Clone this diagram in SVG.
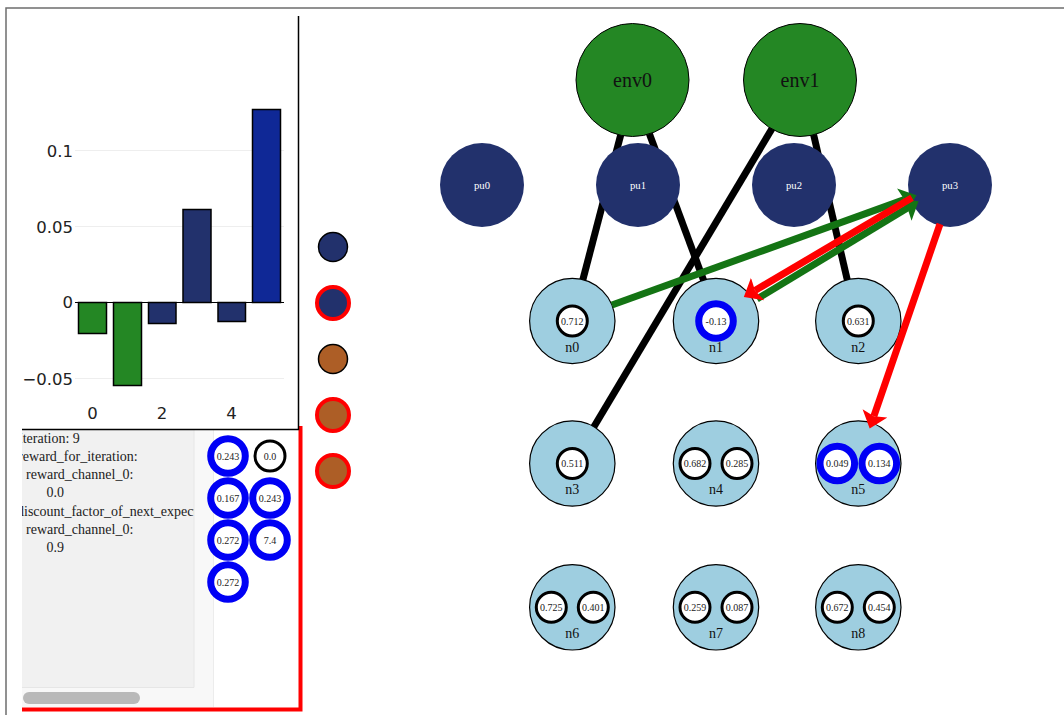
<svg xmlns="http://www.w3.org/2000/svg" width="1064" height="715" viewBox="0 0 1064 715">
<style>
.grid{stroke:#eeeeee;stroke-width:1}
.bar{stroke:#000;stroke-width:1.5}
.tick{font-family:"DejaVu Sans",sans-serif;font-size:16.5px;fill:#222}
.panel{font-family:"Liberation Serif",serif;font-size:14px;fill:#222}
.env{fill:#248724;stroke:#000;stroke-width:1}
.pu{fill:#22316c}
.n{fill:#9ecee0;stroke:#000;stroke-width:1.2}
.val{fill:#fff;stroke:#000;stroke-width:3}
.hot{fill:#fff;stroke:#0000f5;stroke-width:7}
.vt{font-family:"Liberation Serif",serif;font-size:10px;text-anchor:middle;fill:#222}
.nt{font-family:"Liberation Serif",serif;font-size:14px;text-anchor:middle;fill:#111}
.put{font-family:"Liberation Serif",serif;font-size:10.7px;text-anchor:middle;fill:#fff}
.envt{font-family:"Liberation Serif",serif;font-size:20px;text-anchor:middle;fill:#111}
.blk{stroke:#000;stroke-width:7;fill:none}
.grn{stroke:#147414;stroke-width:7;fill:none;marker-end:url(#ag)}
.red{stroke:#ff0000;stroke-width:7;fill:none;marker-end:url(#ar)}
</style>
<defs>
<marker id="ag" markerUnits="userSpaceOnUse" markerWidth="18" markerHeight="28" refX="3" refY="13" orient="auto"><polygon points="0,0 16,13 0,26 3,13" fill="#147414"/></marker>
<marker id="ar" markerUnits="userSpaceOnUse" markerWidth="18" markerHeight="28" refX="3" refY="13" orient="auto"><polygon points="0,0 16,13 0,26 3,13" fill="#ff0000"/></marker>
<clipPath id="clip"><rect x="22" y="431" width="172" height="256"/></clipPath>
</defs>
<rect width="1064" height="715" fill="#fff"/>
<path d="M6 715V8H1064" fill="none" stroke="#6e6e6e" stroke-width="1.5"/>
<g id="chart">
<line class="grid" x1="75" x2="284" y1="150.5" y2="150.5"/>
<line class="grid" x1="75" x2="284" y1="226.5" y2="226.5"/>
<line class="grid" x1="75" x2="284" y1="378.5" y2="378.5"/>
<rect class="bar" x="78.500" y="302.500" width="28" height="31" fill="#248724"/>
<rect class="bar" x="113.500" y="302.500" width="28" height="83" fill="#248724"/>
<rect class="bar" x="148.500" y="302.500" width="27.500" height="21" fill="#22316c"/>
<rect class="bar" x="183" y="209.500" width="28" height="93" fill="#22316c"/>
<rect class="bar" x="218" y="302.500" width="27.500" height="19" fill="#22316c"/>
<rect class="bar" x="252.500" y="109.500" width="28" height="193" fill="#0f2896"/>
<line x1="75" x2="284" y1="302.500" y2="302.500" stroke="#000" stroke-width="1"/>
<text class="tick" x="73" y="156.500" text-anchor="end">0.1</text>
<text class="tick" x="73" y="232.500" text-anchor="end">0.05</text>
<text class="tick" x="73" y="308" text-anchor="end">0</text>
<text class="tick" x="73" y="384.500" text-anchor="end">−0.05</text>
<text class="tick" x="92.500" y="419" text-anchor="middle">0</text>
<text class="tick" x="162" y="419" text-anchor="middle">2</text>
<text class="tick" x="231.500" y="419" text-anchor="middle">4</text>
</g>
<g id="panel">
<rect x="22" y="430" width="191" height="277" fill="#f8f8f8"/>
<rect x="22" y="430" width="172" height="257.500" fill="#f1f1f1"/>
<path d="M194 430V687.500H22" fill="none" stroke="#e6e6e6" stroke-width="1"/>
<line x1="213.500" x2="213.500" y1="430" y2="707" stroke="#ececec"/>
<rect x="23" y="692" width="117" height="12" rx="6" fill="#b9b9b9"/>
<g clip-path="url(#clip)">
<text class="panel" x="18" y="442.800">Iteration: 9</text>
<text class="panel" x="18" y="461">reward_for_iteration:</text>
<text class="panel" x="26" y="479.100">reward_channel_0:</text>
<text class="panel" x="46.500" y="497.300">0.0</text>
<text class="panel" x="17" y="515.500">discount_factor_of_next_expected</text>
<text class="panel" x="26" y="533.600">reward_channel_0:</text>
<text class="panel" x="46.500" y="551.800">0.9</text>
</g>
<circle class="hot" cx="228" cy="456" r="17.300"/><text class="vt" x="228" y="459.500">0.243</text>
<circle class="val" cx="270" cy="456" r="15"/><text class="vt" x="270" y="459.500">0.0</text>
<circle class="hot" cx="228" cy="498" r="17.300"/><text class="vt" x="228" y="501.500">0.167</text>
<circle class="hot" cx="270" cy="498" r="17.300"/><text class="vt" x="270" y="501.500">0.243</text>
<circle class="hot" cx="228" cy="540" r="17.300"/><text class="vt" x="228" y="543.500">0.272</text>
<circle class="hot" cx="270" cy="540" r="17.300"/><text class="vt" x="270" y="543.500">7.4</text>
<circle class="hot" cx="228" cy="582" r="17.300"/><text class="vt" x="228" y="585.500">0.272</text>
</g>
<path d="M300.500 426V709.500H22" fill="none" stroke="#ff0000" stroke-width="4"/>
<path d="M298.500 16V429.500H22" fill="none" stroke="#000" stroke-width="1.500"/>
<g id="legend">
<circle cx="333" cy="247" r="14.500" fill="#22316c" stroke="#000" stroke-width="1.500"/>
<circle cx="333" cy="303" r="16" fill="#22316c" stroke="#ff0000" stroke-width="4"/>
<circle cx="333" cy="359" r="14.500" fill="#ad5e26" stroke="#000" stroke-width="1.500"/>
<circle cx="333" cy="415" r="16" fill="#ad5e26" stroke="#ff0000" stroke-width="4"/>
<circle cx="333" cy="471" r="16" fill="#ad5e26" stroke="#ff0000" stroke-width="4"/>
</g>
<g id="connectors">
<line class="blk" x1="622" y1="130" x2="582" y2="283"/>
<line class="blk" x1="648" y1="130" x2="705" y2="284"/>
<line class="blk" x1="773" y1="127" x2="592" y2="430"/>
<line class="blk" x1="813" y1="132" x2="848" y2="283"/>
</g>
<g id="env0"><circle class="env" cx="632.500" cy="80" r="56.500"/><text class="envt" x="632.500" y="87">env0</text></g>
<g id="env1"><circle class="env" cx="800" cy="80" r="56.500"/><text class="envt" x="800" y="87">env1</text></g>
<g id="pu0"><circle class="pu" cx="482" cy="185" r="42"/><text class="put" x="482" y="189">pu0</text></g>
<g id="pu1"><circle class="pu" cx="638" cy="185" r="42"/><text class="put" x="638" y="189">pu1</text></g>
<g id="pu2"><circle class="pu" cx="794" cy="185" r="42"/><text class="put" x="794" y="189">pu2</text></g>
<g id="pu3"><circle class="pu" cx="950" cy="185" r="42"/><text class="put" x="950" y="189">pu3</text></g>
<g id="n0"><circle class="n" cx="572.300" cy="321" r="42.700"/><circle class="val" cx="572.300" cy="321" r="15"/><text class="vt" x="572.300" y="324.500">0.712</text><text class="nt" x="572.300" y="351.500">n0</text></g>
<g id="n1"><circle class="n" cx="716" cy="321" r="42.700"/><circle class="hot" cx="716" cy="321" r="17.300"/><text class="vt" x="716" y="324.500">-0.13</text><text class="nt" x="716" y="351.500">n1</text></g>
<g id="n2"><circle class="n" cx="858.300" cy="321" r="42.700"/><circle class="val" cx="858.300" cy="321" r="15"/><text class="vt" x="858.300" y="324.500">0.631</text><text class="nt" x="858.300" y="351.500">n2</text></g>
<g id="n3"><circle class="n" cx="572.300" cy="463.500" r="42.700"/><circle class="val" cx="572.300" cy="463.500" r="15"/><text class="vt" x="572.300" y="467">0.511</text><text class="nt" x="572.300" y="494">n3</text></g>
<g id="n4"><circle class="n" cx="716" cy="463.500" r="42.700"/><circle class="val" cx="695" cy="463.500" r="15"/><text class="vt" x="695" y="467">0.682</text><circle class="val" cx="737" cy="463.500" r="15"/><text class="vt" x="737" y="467">0.285</text><text class="nt" x="716" y="494">n4</text></g>
<g id="n5"><circle class="n" cx="858.300" cy="463.500" r="42.700"/><circle class="hot" cx="837.300" cy="463.500" r="17.300"/><text class="vt" x="837.300" y="467">0.049</text><circle class="hot" cx="879.300" cy="463.500" r="17.300"/><text class="vt" x="879.300" y="467">0.134</text><text class="nt" x="858.300" y="494">n5</text></g>
<g id="n6"><circle class="n" cx="572.300" cy="607.300" r="42.700"/><circle class="val" cx="551.300" cy="607.300" r="15"/><text class="vt" x="551.300" y="610.800">0.725</text><circle class="val" cx="593.300" cy="607.300" r="15"/><text class="vt" x="593.300" y="610.800">0.401</text><text class="nt" x="572.300" y="638">n6</text></g>
<g id="n7"><circle class="n" cx="716" cy="607.300" r="42.700"/><circle class="val" cx="695" cy="607.300" r="15"/><text class="vt" x="695" y="610.800">0.259</text><circle class="val" cx="737" cy="607.300" r="15"/><text class="vt" x="737" y="610.800">0.087</text><text class="nt" x="716" y="638">n7</text></g>
<g id="n8"><circle class="n" cx="858.300" cy="607.300" r="42.700"/><circle class="val" cx="837.300" cy="607.300" r="15"/><text class="vt" x="837.300" y="610.800">0.672</text><circle class="val" cx="879.300" cy="607.300" r="15"/><text class="vt" x="879.300" y="610.800">0.454</text><text class="nt" x="858.300" y="638">n8</text></g>
<g id="arrows">
<line class="grn" x1="612" y1="305" x2="904.300" y2="199.600"/>
<line class="grn" x1="757" y1="299" x2="907.400" y2="208"/>
<line class="red" x1="912" y1="197.800" x2="755" y2="290.500"/>
<line class="red" x1="940" y1="224" x2="873.900" y2="416.200"/>
</g>
</svg>
